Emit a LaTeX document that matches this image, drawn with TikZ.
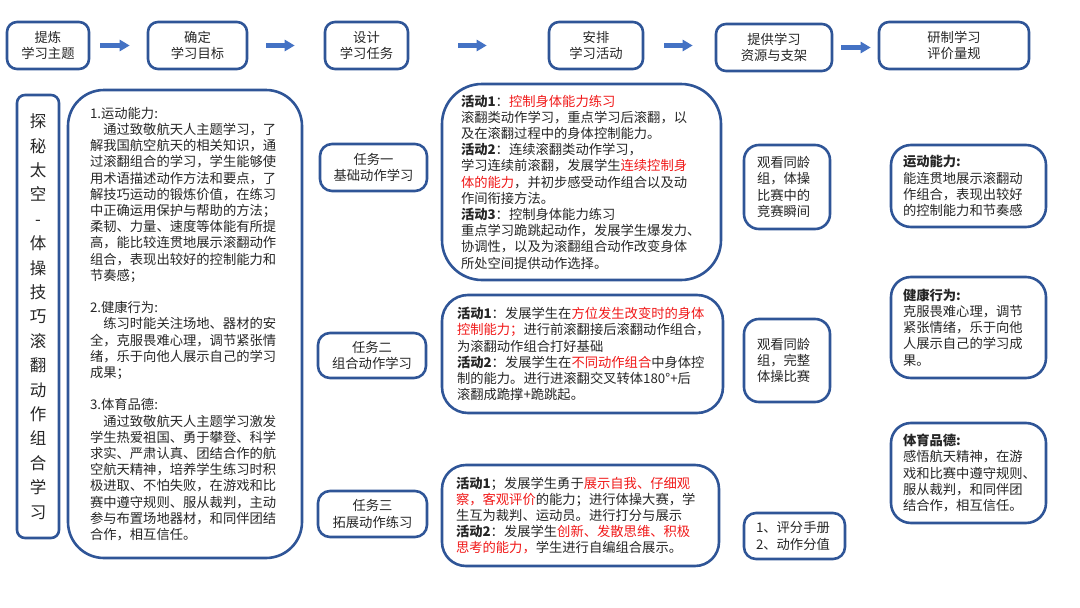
\documentclass[tikz,border=0pt]{standalone}
\usepackage{fontspec}
\setmainfont{Noto Sans CJK SC}
\usepackage{tikz}
\usetikzlibrary{arrows.meta}
\definecolor{boxblue}{RGB}{47,85,151}
\definecolor{arrowblue}{RGB}{68,114,196}
\definecolor{txtgray}{RGB}{38,38,38}
\definecolor{keyred}{RGB}{240,24,24}
\newcommand{\redtext}[1]{\textcolor{keyred}{#1}}

\begin{document}
\begin{tikzpicture}[x=1pt,y=-1pt,font=\fontsize{13.3}{16.2}\selectfont,text=txtgray,
  box/.style={draw=boxblue,line width=2.6pt,inner sep=0pt},
  stage/.style={box,rounded corners=10pt,align=center,minimum height=47pt},
  task/.style={box,rounded corners=12pt,align=center},
  panel/.style={box,align=left},
  flow/.style={draw=arrowblue,line width=4.5pt,-{Triangle[length=10pt,width=11pt]}}]
\useasboundingbox (0,0) rectangle (1080,608);

% top row: steps of the design
\node[stage,minimum width=82pt] (s1) at (48,45.5) {提炼\\学习主题};
\node[stage,minimum width=99pt] (s2) at (197.5,45.5) {确定\\学习目标};
\node[stage,minimum width=83pt] (s3) at (366.5,45.5) {设计\\学习任务};
\node[stage,minimum width=94pt] (s4) at (596,45.5) {安排\\学习活动};
\node[stage,minimum width=116pt] (s5) at (774,47.5) {提供学习\\资源与支架};
\node[stage,minimum width=150pt] (s6) at (954,45.5) {研制学习\\评价量规};
\draw[flow,shorten <=10pt,shorten >=17pt] (s1) -- (s2);
\draw[flow,shorten <=18pt,shorten >=29pt] (s2) -- (s3);
\draw[flow,shorten <=49pt,shorten >=61pt] (s3) -- (s4);
\draw[flow,shorten <=20pt,shorten >=22pt] (s4.east) -- (s4.east -| s5.west);
\draw[flow,shorten <=8pt,shorten >=7pt] (s5.east) -- (s5.east -| s6.west);

% theme and goals
\node[box,rounded corners=8pt,minimum width=42pt,minimum height=443pt,align=center,
  font=\fontsize{16.5}{24.4}\selectfont] (theme) at (38,316.5)
  {探\\秘\\太\\空\\-\\体\\操\\技\\巧\\滚\\翻\\动\\作\\组\\合\\学\\习};
\node[panel,rounded corners=36pt,minimum width=234pt,minimum height=468pt,text width=190pt] (goal) at (185,324) {1.运动能力:\\
\hspace*{1em}通过致敬航天人主题学习，了\\
解我国航空航天的相关知识，通\\
过滚翻组合的学习，学生能够使\\
用术语描述动作方法和要点，了\\
解技巧运动的锻炼价值，在练习\\
中正确运用保护与帮助的方法；\\
柔韧、力量、速度等体能有所提\\
高，能比较连贯地展示滚翻动作\\
组合，表现出较好的控制能力和\\
节奏感；\\[16.2pt]
2.健康行为:\\
\hspace*{1em}练习时能关注场地、器材的安\\
全，克服畏难心理，调节紧张情\\
绪，乐于向他人展示自己的学习\\
成果；\\[16.2pt]
3.体育品德:\\
\hspace*{1em}通过致敬航天人主题学习激发\\
学生热爱祖国、勇于攀登、科学\\
求实、严肃认真、团结合作的航\\
空航天精神，培养学生练习时积\\
极进取、不怕失败，在游戏和比\\
赛中遵守规则、服从裁判，主动\\
参与布置场地器材，和同伴团结\\
合作，相互信任。};

% tasks
\node[task,minimum width=107pt,minimum height=47pt] (k1) at (373.5,167.5) {任务一\\基础动作学习};
\node[task,minimum width=108pt,minimum height=45pt] (k2) at (372,355.5) {任务二\\组合动作学习};
\node[task,minimum width=109pt,minimum height=46pt] (k3) at (372.5,514) {任务三\\拓展动作练习};

% activities
\node[panel,rounded corners=40pt,minimum width=279pt,minimum height=196pt,text width=241pt] (a1) at (581.5,182) {\textbf{活动1}：\redtext{控制身体能力练习}\\
滚翻类动作学习，重点学习后滚翻，以\\
及在滚翻过程中的身体控制能力。\\
\textbf{活动2}：连续滚翻类动作学习，\\
学习连续前滚翻，发展学生\redtext{连续控制身}\\
\redtext{体的能力}，并初步感受动作组合以及动\\
作间衔接方法。\\
\textbf{活动3}：控制身体能力练习\\
重点学习跪跳起动作，发展学生爆发力、\\
协调性，以及为滚翻组合动作改变身体\\
所处空间提供动作选择。};
\node[panel,rounded corners=26pt,minimum width=281pt,minimum height=118pt,text width=251pt] (a2) at (582.5,354) {\textbf{活动1}：发展学生在\redtext{方位发生改变时的身体}\\
\redtext{控制能力；}进行前滚翻接后滚翻动作组合，\\
为滚翻动作组合打好基础\\
\textbf{活动2}：发展学生在\redtext{不同动作组合}中身体控\\
制的能力。进行进滚翻交叉转体180°+后\\
滚翻成跪撑+跪跳起。};
\node[panel,rounded corners=24pt,minimum width=277pt,minimum height=101pt,text width=249pt] (a3) at (580.5,515.5) {\textbf{活动1}；发展学生勇于\redtext{展示自我、仔细观}\\
\redtext{察，客观评价}的能力；进行体操大赛，学\\
生互为裁判、运动员。进行打分与展示\\
\textbf{活动2}：发展学生\redtext{创新、发散思维、积极}\\
\redtext{思考的能力，}学生进行自编组合展示。};

% resources
\node[panel,rounded corners=15pt,minimum width=86pt,minimum height=84pt,text width=60pt] (r1) at (787,187) {观看同龄\\组，体操\\比赛中的\\竞赛瞬间};
\node[panel,rounded corners=15pt,minimum width=86pt,minimum height=83pt,text width=60pt] (r2) at (787,360.5) {观看同龄\\组，完整\\体操比赛\\[16.2pt]};
\node[panel,rounded corners=12pt,minimum width=101pt,minimum height=46pt,text width=77pt] (r3) at (794.5,536) {1、评分手册\\2、动作分值};

% rubrics
\node[panel,rounded corners=20pt,minimum width=155pt,minimum height=82pt,text width=131pt] (e1) at (968.5,186) {\textbf{运动能力:}\\能连贯地展示滚翻动\\作组合，表现出较好\\的控制能力和节奏感};
\node[panel,rounded corners=20pt,minimum width=155pt,minimum height=101pt,text width=131pt] (e2) at (968.5,327.5) {\textbf{健康行为:}\\克服畏难心理，调节\\紧张情绪，乐于向他\\人展示自己的学习成\\果。};
\node[panel,rounded corners=20pt,minimum width=155pt,minimum height=100pt,text width=131pt] (e3) at (968.5,473) {\textbf{体育品德:}\\感悟航天精神，在游\\戏和比赛中遵守规则、\\服从裁判，和同伴团\\结合作，相互信任。};
\end{tikzpicture}
\end{document}
